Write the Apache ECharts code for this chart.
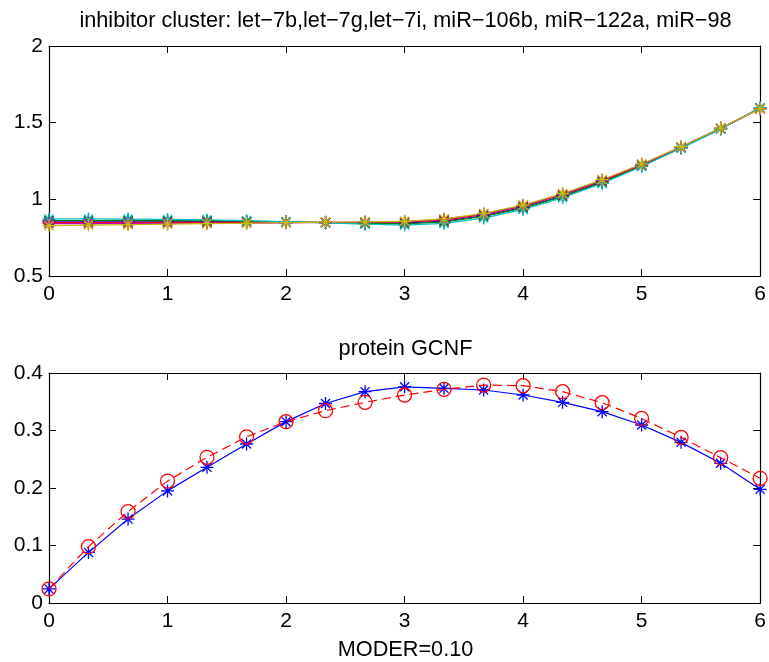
<!DOCTYPE html>
<html>
<head>
<meta charset="utf-8">
<script src="https://cdn.jsdelivr.net/npm/echarts@6/dist/echarts.min.js"></script>
<style>html,body{margin:0;padding:0;background:#fff;}#c{width:769px;height:662px;}</style>
</head>
<body>
<div id="c"></div>
<script>
// ---- data ----
const xs = [0, 0.333, 0.667, 1, 1.333, 1.667, 2, 2.333, 2.667, 3, 3.333, 3.667, 4, 4.333, 4.667, 5, 5.333, 5.667, 6];

const topTitle = "inhibitor cluster: let\u22127b,let\u22127g,let\u22127i, miR\u2212106b, miR\u2212122a, miR\u221298";
const bottomTitle = "protein GCNF";
const xLabel = "MODER=0.10";

const topBlue    = [0.858,0.858,0.858,0.857,0.856,0.855,0.852,0.849,0.846,0.845,0.858,0.893,0.948,1.022,1.114,1.221,1.338,1.461,1.594];
const topGreen   = [0.862,0.862,0.862,0.861,0.859,0.857,0.853,0.848,0.843,0.840,0.853,0.888,0.943,1.018,1.110,1.218,1.336,1.460,1.595];
const topRed     = [0.850,0.850,0.850,0.850,0.850,0.850,0.850,0.850,0.850,0.852,0.865,0.900,0.955,1.030,1.120,1.225,1.340,1.463,1.592];
const topCyan    = [0.872,0.872,0.871,0.869,0.866,0.861,0.854,0.846,0.838,0.832,0.843,0.878,0.934,1.010,1.104,1.214,1.334,1.458,1.598];
const topMagenta = [0.842,0.842,0.843,0.843,0.844,0.845,0.847,0.849,0.851,0.854,0.869,0.905,0.960,1.035,1.125,1.228,1.342,1.465,1.590];
const topOlive   = [0.828,0.832,0.835,0.838,0.841,0.844,0.848,0.851,0.853,0.857,0.872,0.908,0.963,1.038,1.128,1.230,1.343,1.465,1.590];

const botBlue = [0.0245,0.088,0.146,0.195,0.236,0.2765,0.3154,0.347,0.3675,0.376,0.3733,0.3704,0.3617,0.349,0.3328,0.3096,0.2794,0.243,0.1977];
const botRed  = [0.0245,0.098,0.159,0.212,0.2533,0.289,0.3154,0.3345,0.349,0.3617,0.3716,0.379,0.378,0.3675,0.3484,0.321,0.288,0.2527,0.2168];

const topTicksY = [0.5, 1, 1.5, 2];
const botTicksY = [0, 0.1, 0.2, 0.3, 0.4];

// ---- chart ----
const FONT = "'Liberation Sans', Arial, Helvetica, sans-serif";
const STAR = 'path://M0,-1L0,1M-1,0L1,0M-0.7,-0.7L0.7,0.7M-0.7,0.7L0.7,-0.7';
const RING = 'path://M1,0A1,1,0,1,1,-1,0A1,1,0,1,1,1,0Z';
const pairs = ys => xs.map((x, i) => [x, ys[i]]);

function markSeries(ys, color, xi, yi, sym, size, dash, z) {
  return {
    type: 'line', xAxisIndex: xi, yAxisIndex: yi, data: pairs(ys),
    symbol: sym, symbolSize: size, showSymbol: true, showAllSymbol: true,
    lineStyle: { color: color, width: 1.2, type: dash || 'solid' },
    itemStyle: { color: 'rgba(0,0,0,0)', borderColor: color, borderWidth: 1.3, borderType: 'solid' },
    emphasis: { disabled: true }, silent: true, z: z || 3
  };
}

const grids = [
  { left: 49, right: 7, top: 46, height: 230 },
  { left: 49, right: 7, top: 373, height: 230 }
];

function xAx(gi, showLabels, pos) {
  return {
    type: 'value', gridIndex: gi, min: 0, max: 6, interval: 1, position: pos,
    axisLine: { show: true, onZero: false, lineStyle: { color: '#000', width: 1.2 } },
    axisTick: { show: true, inside: true, length: 7, lineStyle: { color: '#000' } },
    axisLabel: { show: showLabels, color: '#000', fontSize: 21, fontFamily: FONT, margin: 8 },
    splitLine: { show: false }
  };
}
function yAx(gi, min, max, interval, showLabels, pos) {
  return {
    type: 'value', gridIndex: gi, min: min, max: max, interval: interval, position: pos,
    axisLine: { show: true, onZero: false, lineStyle: { color: '#000', width: 1.2 } },
    axisTick: { show: true, inside: true, length: 7, lineStyle: { color: '#000' } },
    axisLabel: { show: showLabels, color: '#000', fontSize: 21, fontFamily: FONT, margin: 6,
      formatter: v => String(+v.toFixed(2)) },
    splitLine: { show: false }
  };
}

const option = {
  animation: false,
  backgroundColor: '#fff',
  grid: grids,
  xAxis: [xAx(0, true, 'bottom'), xAx(0, false, 'top'), xAx(1, true, 'bottom'), xAx(1, false, 'top')],
  yAxis: [
    yAx(0, topTicksY[0], topTicksY[topTicksY.length - 1], 0.5, true, 'left'),
    yAx(0, topTicksY[0], topTicksY[topTicksY.length - 1], 0.5, false, 'right'),
    yAx(1, botTicksY[0], botTicksY[botTicksY.length - 1], 0.1, true, 'left'),
    yAx(1, botTicksY[0], botTicksY[botTicksY.length - 1], 0.1, false, 'right')
  ],
  series: [
    markSeries(topBlue, '#0000FF', 0, 0, STAR, 13),
    markSeries(topGreen, '#008000', 0, 0, STAR, 13),
    markSeries(topRed, '#FF0000', 0, 0, STAR, 13),
    markSeries(topCyan, '#00BFBF', 0, 0, STAR, 13),
    markSeries(topMagenta, '#BF00BF', 0, 0, STAR, 13),
    markSeries(topOlive, '#BFBF00', 0, 0, STAR, 13),
    markSeries(botBlue, '#0000FF', 2, 2, STAR, 13, 'solid', 3),
    markSeries(botRed, '#FF0000', 2, 2, RING, 14, [9, 5], 4)
  ],
  graphic: [
    { type: 'text', x: 405.5, y: 21.5, style: { text: topTitle, font: '21.7px ' + FONT, fill: '#000', align: 'center', verticalAlign: 'middle' } },
    { type: 'text', x: 405.5, y: 349.5, style: { text: bottomTitle, font: '21.7px ' + FONT, fill: '#000', align: 'center', verticalAlign: 'middle' } },
    { type: 'text', x: 405.5, y: 650, style: { text: xLabel, font: '21.7px ' + FONT, fill: '#000', align: 'center', verticalAlign: 'middle' } }
  ]
};

const chart = echarts.init(document.getElementById('c'), null, { renderer: 'canvas' });
chart.setOption(option);
</script>
</body>
</html>
